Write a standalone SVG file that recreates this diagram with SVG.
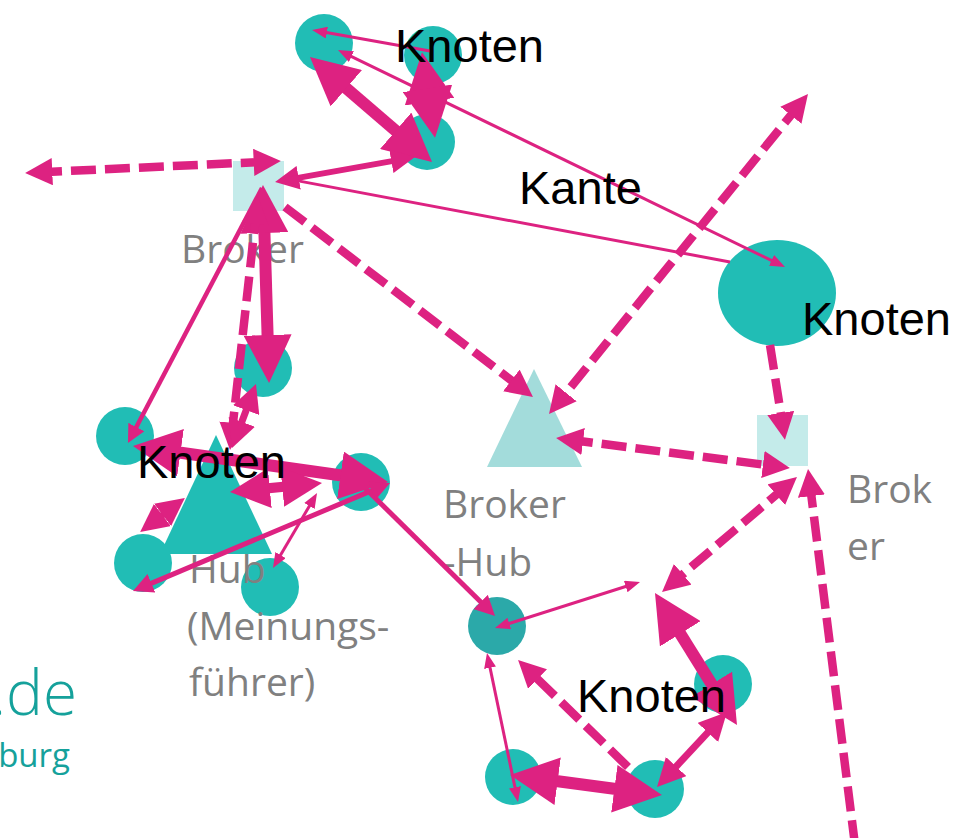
<svg xmlns="http://www.w3.org/2000/svg" width="958" height="838" viewBox="0 0 958 838">
<style>
.n{fill:#21BDB5}
.nd{fill:#2BA9A9}
.br{fill:#C4EBEA}
.bh{fill:#A3DCDB}
.e{stroke:#DD2281;fill:none}
.d{stroke-width:8.5;stroke-dasharray:25 9}
.t{stroke-width:3}
.k{font-family:"Liberation Sans",Arial,sans-serif;font-size:47px;fill:#000}
.g{font-family:"Open Sans","Noto Sans",sans-serif;font-size:39px;fill:#808080}
.c{font-family:"Open Sans","Noto Sans",sans-serif;fill:#15A19B}
</style>
<defs>
<marker id="ah" viewBox="0 0 4 4" refX="2.5" refY="2" markerWidth="4" markerHeight="4" orient="auto-start-reverse"><path d="M0,0L4,2L0,4z" fill="#DD2281"/></marker>
<marker id="ad" viewBox="0 0 3.2 3.2" refX="1.8" refY="1.6" markerWidth="3.2" markerHeight="3.2" orient="auto-start-reverse"><path d="M0,0L3.2,1.6L0,3.2z" fill="#DD2281"/></marker>
<marker id="at" viewBox="0 0 5 4" refX="3" refY="2" markerWidth="5" markerHeight="4" orient="auto-start-reverse"><path d="M0,0L5,2L0,4z" fill="#DD2281"/></marker>
</defs>
<rect width="958" height="838" fill="#fff"/>
<g id="nodes">
<g id="n1"><circle class="n" cx="324" cy="43" r="29"/></g>
<g id="n2"><circle class="n" cx="433" cy="55" r="29"/></g>
<g id="n3"><circle class="n" cx="427" cy="142" r="28"/></g>
<g id="n4"><ellipse class="n" cx="777" cy="293" rx="59" ry="53"/></g>
<g id="broker1"><rect class="br" x="233" y="161" width="51" height="50"/></g>
<g id="broker2"><rect class="br" x="757" y="415" width="51" height="51"/></g>
<g id="brokerhub"><polygon class="bh" points="534,369 487,467 582,467"/></g>
<g id="n5"><circle class="n" cx="263" cy="368" r="29"/></g>
<g id="n6"><circle class="n" cx="125" cy="436" r="29"/></g>
<g id="hub"><polygon class="n" points="216,435 160,554 272,554"/></g>
<g id="n7"><circle class="n" cx="361" cy="482" r="29"/></g>
<g id="n8"><circle class="n" cx="143" cy="563" r="29"/></g>
<g id="n9"><circle class="n" cx="270" cy="587" r="29"/></g>
<g id="n10"><circle class="nd" cx="497" cy="626" r="29"/></g>
<g id="n11"><circle class="n" cx="513" cy="777" r="28"/></g>
<g id="n12"><circle class="n" cx="655" cy="789" r="29"/></g>
<g id="n13"><circle class="n" cx="723" cy="684" r="29"/></g>
</g>
<g id="labels-gray">
<text class="g" x="181" y="263">Broker</text>
<text class="g" x="443" y="518">Broker</text>
<text class="g" x="443" y="576">-Hub</text>
<text class="g" x="847" y="503">Brok</text>
<text class="g" x="847" y="560">er</text>
<text class="g" x="189" y="583">Hub</text>
<text class="g" x="187" y="640">(Meinungs-</text>
<text class="g" x="189" y="696">führer)</text>
<text class="c" x="77" y="715" font-size="62" font-weight="300" text-anchor="end">.de</text>
<text class="c" x="70" y="767" font-size="33" text-anchor="end">burg</text>
</g>
<g id="edges">
<line class="e t" x1="430" y1="51" x2="318" y2="31" marker-end="url(#at)"/>
<line class="e t" x1="343.4" y1="52.6" x2="779.6" y2="264.4" marker-start="url(#at)" marker-end="url(#at)"/>
<line class="e" stroke-width="12" x1="323.6" y1="68.7" x2="418.4" y2="150.3" marker-start="url(#ah)" marker-end="url(#ah)"/>
<line class="e" stroke-width="12.5" x1="424.8" y1="70.8" x2="432.2" y2="119.2" marker-start="url(#ah)" marker-end="url(#ah)"/>
<line class="e" stroke-width="6" x1="283.9" y1="180.4" x2="406.1" y2="158.6" marker-start="url(#ah)" marker-end="url(#ah)"/>
<line class="e t" x1="730" y1="262" x2="288.9" y2="179.1" marker-end="url(#at)"/>
<line class="e d" x1="37" y1="172.4" x2="269" y2="161.6" marker-start="url(#ad)" marker-end="url(#ad)"/>
<line class="e d" x1="285" y1="207" x2="523.5" y2="389.7" marker-end="url(#ad)"/>
<line class="e d" x1="800.5" y1="103.3" x2="556.5" y2="404.7" marker-start="url(#ad)" marker-end="url(#ad)"/>
<line class="e d" x1="567.9" y1="439.5" x2="778.1" y2="466.5" marker-start="url(#ad)" marker-end="url(#ad)"/>
<line class="e d" x1="770" y1="345" x2="783.1" y2="428.1" marker-end="url(#ad)"/>
<line class="e d" x1="787.9" y1="484.8" x2="671.1" y2="584.2" marker-start="url(#ad)" marker-end="url(#ad)"/>
<line class="e d" x1="855" y1="845" x2="809.5" y2="480.9" marker-end="url(#ad)"/>
<line class="e t" x1="500.7" y1="626.2" x2="634.3" y2="583.8" marker-start="url(#at)" marker-end="url(#at)"/>
<line class="e" stroke-width="12" x1="664.5" y1="608.3" x2="727.5" y2="709.7" marker-start="url(#ah)" marker-end="url(#ah)"/>
<line class="e" stroke-width="7" x1="664.2" y1="779.3" x2="719.8" y2="719.7" marker-start="url(#ah)" marker-end="url(#ah)"/>
<line class="e" stroke-width="12" x1="527.9" y1="777.3" x2="644.1" y2="792.7" marker-start="url(#ah)" marker-end="url(#ah)"/>
<line class="e d" x1="628" y1="767" x2="526.6" y2="668.4" marker-end="url(#ad)"/>
<line class="e t" x1="488.2" y1="658.9" x2="516.8" y2="796.1" marker-start="url(#at)" marker-end="url(#at)"/>
<line class="e" stroke-width="5" x1="362" y1="485" x2="489.7" y2="610.7" marker-end="url(#ah)"/>
<line class="e" stroke-width="4.5" x1="262" y1="188" x2="131.1" y2="437" marker-end="url(#ah)"/>
<line class="e" stroke-width="12" x1="263.5" y1="203" x2="268.5" y2="365" marker-start="url(#ah)" marker-end="url(#ah)"/>
<line class="e d" x1="256.7" y1="208.9" x2="231.3" y2="438.1" marker-start="url(#ad)" marker-end="url(#ad)"/>
<line class="e" stroke-width="7" x1="235.7" y1="438.2" x2="252.3" y2="393.8" marker-start="url(#ah)" marker-end="url(#ah)"/>
<line class="e" stroke-width="12" x1="150.8" y1="448.5" x2="370.2" y2="479.5" marker-start="url(#ah)" marker-end="url(#ah)"/>
<line class="e" stroke-width="10" x1="244.9" y1="490.5" x2="307.1" y2="484.5" marker-start="url(#ah)" marker-end="url(#ah)"/>
<line class="e" stroke-width="7" x1="148.5" y1="525.7" x2="176.5" y2="504.3" marker-start="url(#ah)" marker-end="url(#ah)"/>
<line class="e" stroke-width="5" x1="139.9" y1="588.1" x2="383.1" y2="485.9" marker-start="url(#ah)" marker-end="url(#ah)"/>
<line class="e t" x1="276" y1="562.8" x2="314" y2="498.2" marker-start="url(#at)" marker-end="url(#at)"/>
</g>
<g id="labels">
<text class="k" x="395" y="62">Knoten</text>
<text class="k" x="519" y="204">Kante</text>
<text class="k" x="802" y="335">Knoten</text>
<text class="k" x="137" y="478">Knoten</text>
<text class="k" x="577" y="712">Knoten</text>
</g>
</svg>
